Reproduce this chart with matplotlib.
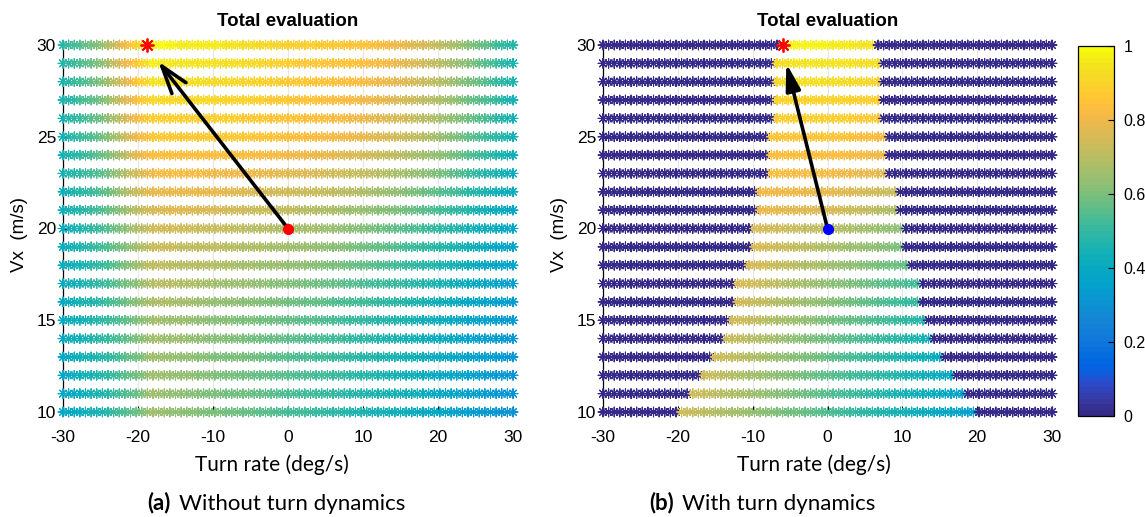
import numpy as np
import matplotlib
matplotlib.use("Agg")
import matplotlib.pyplot as plt
from matplotlib.colors import ListedColormap, Normalize
from matplotlib.cm import ScalarMappable
from matplotlib.offsetbox import TextArea, HPacker, AnnotationBbox

plt.rcParams["font.family"] = ["Liberation Sans", "DejaVu Sans"]
plt.rcParams["axes.unicode_minus"] = False

# ---------------------------------------------------------------- colour map
PARULA = [
    [0.2081, 0.1663, 0.5292], [0.2116, 0.1898, 0.5777], [0.2123, 0.2138, 0.6270],
    [0.2081, 0.2386, 0.6771], [0.1959, 0.2645, 0.7279], [0.1707, 0.2919, 0.7792],
    [0.1253, 0.3242, 0.8303], [0.0591, 0.3598, 0.8683], [0.0117, 0.3875, 0.8820],
    [0.0060, 0.4086, 0.8828], [0.0165, 0.4266, 0.8786], [0.0329, 0.4430, 0.8720],
    [0.0498, 0.4586, 0.8641], [0.0629, 0.4737, 0.8554], [0.0723, 0.4887, 0.8467],
    [0.0779, 0.5040, 0.8384], [0.0793, 0.5200, 0.8312], [0.0749, 0.5375, 0.8263],
    [0.0641, 0.5570, 0.8240], [0.0488, 0.5772, 0.8228], [0.0343, 0.5966, 0.8199],
    [0.0265, 0.6137, 0.8135], [0.0239, 0.6287, 0.8038], [0.0231, 0.6418, 0.7913],
    [0.0228, 0.6535, 0.7768], [0.0267, 0.6642, 0.7607], [0.0384, 0.6743, 0.7436],
    [0.0590, 0.6838, 0.7254], [0.0843, 0.6928, 0.7062], [0.1133, 0.7015, 0.6859],
    [0.1453, 0.7098, 0.6646], [0.1801, 0.7177, 0.6424], [0.2178, 0.7250, 0.6193],
    [0.2586, 0.7317, 0.5954], [0.3022, 0.7376, 0.5712], [0.3482, 0.7424, 0.5473],
    [0.3953, 0.7459, 0.5244], [0.4420, 0.7481, 0.5033], [0.4871, 0.7491, 0.4840],
    [0.5300, 0.7491, 0.4661], [0.5709, 0.7485, 0.4494], [0.6099, 0.7473, 0.4337],
    [0.6473, 0.7456, 0.4188], [0.6834, 0.7435, 0.4044], [0.7184, 0.7411, 0.3905],
    [0.7525, 0.7384, 0.3768], [0.7858, 0.7356, 0.3633], [0.8185, 0.7327, 0.3498],
    [0.8507, 0.7299, 0.3360], [0.8824, 0.7274, 0.3217], [0.9139, 0.7258, 0.3063],
    [0.9450, 0.7261, 0.2886], [0.9739, 0.7314, 0.2666], [0.9938, 0.7455, 0.2403],
    [0.9990, 0.7653, 0.2164], [0.9955, 0.7861, 0.1967], [0.9880, 0.8066, 0.1794],
    [0.9789, 0.8271, 0.1633], [0.9697, 0.8481, 0.1475], [0.9626, 0.8705, 0.1309],
    [0.9589, 0.8949, 0.1132], [0.9598, 0.9218, 0.0948], [0.9661, 0.9514, 0.0755],
    [0.9763, 0.9831, 0.0538],
]
parula = ListedColormap(PARULA, name="parula")

# ---------------------------------------------------------------- data
turn_rates = np.linspace(-30, 30, 81)       # deg/s, 0.75 deg/s step
speeds = np.arange(30, 9, -1)               # Vx rows, 30 .. 10 m/s

# (a) total evaluation without turn dynamics, sampled at these turn rates
a_cols = [-30, -25, -20, -18, -15, -10, -5, 0, 5, 10, 15, 20, 25, 30]
a_scores = [
    [0.48, 0.62, 0.90, 1.00, 0.97, 0.96, 0.93, 0.89, 0.87, 0.85, 0.80, 0.72, 0.60, 0.47],  # 30
    [0.47, 0.61, 0.88, 0.97, 0.95, 0.94, 0.92, 0.88, 0.86, 0.84, 0.79, 0.71, 0.59, 0.46],  # 29
    [0.46, 0.60, 0.86, 0.94, 0.93, 0.92, 0.90, 0.87, 0.85, 0.83, 0.78, 0.70, 0.58, 0.46],  # 28
    [0.46, 0.59, 0.84, 0.92, 0.91, 0.91, 0.89, 0.86, 0.84, 0.81, 0.76, 0.68, 0.57, 0.45],  # 27
    [0.45, 0.58, 0.82, 0.89, 0.89, 0.89, 0.87, 0.85, 0.83, 0.80, 0.75, 0.67, 0.56, 0.45],  # 26
    [0.45, 0.57, 0.80, 0.86, 0.87, 0.87, 0.86, 0.84, 0.82, 0.79, 0.74, 0.66, 0.55, 0.44],  # 25
    [0.44, 0.56, 0.78, 0.84, 0.84, 0.84, 0.83, 0.81, 0.79, 0.75, 0.70, 0.63, 0.53, 0.43],  # 24
    [0.44, 0.55, 0.75, 0.81, 0.82, 0.81, 0.80, 0.78, 0.75, 0.72, 0.67, 0.60, 0.50, 0.42],  # 23
    [0.43, 0.54, 0.73, 0.79, 0.79, 0.79, 0.76, 0.74, 0.72, 0.68, 0.63, 0.56, 0.48, 0.41],  # 22
    [0.43, 0.53, 0.70, 0.76, 0.77, 0.76, 0.73, 0.71, 0.68, 0.64, 0.60, 0.53, 0.46, 0.39],  # 21
    [0.42, 0.52, 0.68, 0.74, 0.74, 0.73, 0.70, 0.68, 0.65, 0.61, 0.56, 0.50, 0.44, 0.38],  # 20
    [0.42, 0.51, 0.66, 0.72, 0.72, 0.71, 0.68, 0.66, 0.63, 0.59, 0.54, 0.48, 0.43, 0.37],  # 19
    [0.41, 0.50, 0.65, 0.71, 0.70, 0.69, 0.66, 0.64, 0.61, 0.57, 0.52, 0.47, 0.41, 0.36],  # 18
    [0.41, 0.50, 0.63, 0.69, 0.69, 0.66, 0.64, 0.61, 0.58, 0.54, 0.50, 0.45, 0.40, 0.35],  # 17
    [0.40, 0.49, 0.62, 0.68, 0.67, 0.64, 0.62, 0.59, 0.56, 0.52, 0.48, 0.44, 0.38, 0.34],  # 16
    [0.40, 0.48, 0.60, 0.66, 0.65, 0.62, 0.60, 0.57, 0.54, 0.50, 0.46, 0.42, 0.37, 0.33],  # 15
    [0.40, 0.48, 0.60, 0.66, 0.65, 0.62, 0.59, 0.56, 0.53, 0.49, 0.45, 0.41, 0.36, 0.32],  # 14
    [0.39, 0.47, 0.59, 0.66, 0.64, 0.61, 0.59, 0.55, 0.52, 0.48, 0.45, 0.41, 0.36, 0.32],  # 13
    [0.39, 0.47, 0.59, 0.66, 0.64, 0.61, 0.58, 0.55, 0.52, 0.48, 0.44, 0.40, 0.35, 0.31],  # 12
    [0.38, 0.46, 0.58, 0.66, 0.63, 0.60, 0.58, 0.54, 0.51, 0.47, 0.44, 0.40, 0.35, 0.31],  # 11
    [0.38, 0.46, 0.58, 0.66, 0.63, 0.60, 0.57, 0.53, 0.50, 0.46, 0.43, 0.39, 0.34, 0.30],  # 10
]

# (b) with turn dynamics: reachable turn-rate band per row (|r| <= half width)
b_half_width = [6.0, 7.2, 7.2, 7.2, 7.2, 8.1, 8.1, 8.1, 9.0, 9.0, 10.0,
                10.0, 11.0, 12.0, 12.0, 13.0, 14.0, 15.0, 17.0, 18.0, 19.6]
# evaluation at the left edge, centre (0 deg/s) and right edge of each band
b_left = [0.98, 0.93, 0.92, 0.90, 0.88, 0.85, 0.84, 0.83, 0.81, 0.79, 0.76,
          0.76, 0.76, 0.76, 0.75, 0.75, 0.74, 0.74, 0.74, 0.74, 0.74]
b_mid = [0.97, 0.95, 0.93, 0.90, 0.89, 0.86, 0.84, 0.82, 0.79, 0.76, 0.70,
         0.68, 0.66, 0.63, 0.62, 0.60, 0.58, 0.57, 0.56, 0.55, 0.54]
b_right = [0.94, 0.92, 0.90, 0.88, 0.86, 0.82, 0.80, 0.77, 0.72, 0.68, 0.62,
           0.60, 0.56, 0.52, 0.50, 0.47, 0.44, 0.41, 0.39, 0.37, 0.35]

current_state = (0, 20)
best_a = (-18.75, 30)
best_b = (-6, 30)
arrow_tip_a = (-17.3, 29.1)
arrow_tip_b = (-5.5, 29.0)

# ---------------------------------------------------------------- build grids
def grid_a():
    xs, ys, vs = [], [], []
    for vx, row in zip(speeds, a_scores):
        vals = np.interp(turn_rates, a_cols, row)
        xs.append(turn_rates); ys.append(np.full_like(turn_rates, vx)); vs.append(vals)
    return np.concatenate(xs), np.concatenate(ys), np.concatenate(vs)


def grid_b():
    xs, ys, vs = [], [], []
    for vx, hw, lo, mi, hi in zip(speeds, b_half_width, b_left, b_mid, b_right):
        vals = np.interp(turn_rates, [-hw, 0, hw], [lo, mi, hi])
        vals = np.where(np.abs(turn_rates) <= hw, vals, 0.0)
        xs.append(turn_rates); ys.append(np.full_like(turn_rates, vx)); vs.append(vals)
    return np.concatenate(xs), np.concatenate(ys), np.concatenate(vs)


# ---------------------------------------------------------------- figure
W, H = 1145, 517
fig = plt.figure(figsize=(W / 100, H / 100), dpi=100)
HUMAN_FONT = "Lato"
ASTERISK = (8, 2, 0)


def px_axes(x0, x1, ytop, ybot):
    return [x0 / W, 1 - ybot / H, (x1 - x0) / W, (ybot - ytop) / H]


def style_axes(ax):
    ax.set_xlim(-30, 30)
    ax.set_ylim(10, 30)
    ax.set_xticks([-30, -20, -10, 0, 10, 20, 30])
    ax.set_yticks([10, 15, 20, 25, 30])
    ax.set_axisbelow(True)
    ax.grid(True, color="#e6e6e6", lw=0.8)
    for side in ("top", "right"):
        ax.spines[side].set_visible(False)
    for side in ("left", "bottom"):
        ax.spines[side].set_color("black")
        ax.spines[side].set_linewidth(0.9)
        ax.spines[side].set_zorder(0.6)
    ax.tick_params(direction="in", length=4, width=0.8, labelsize=12.5, colors="black")
    ax.tick_params(axis="x", pad=13)
    ax.tick_params(axis="y", pad=5)
    ax.set_title("Total evaluation", fontsize=13.5, fontweight="bold", pad=13.5)


def draw_panel(ax, grid, best, tip, dot_color, arrowstyle):
    x, y, v = grid
    ax.scatter(x, y, c=v, cmap=parula, vmin=0, vmax=1, marker=ASTERISK, s=49,
               linewidths=0.8, zorder=2, clip_on=False)
    ax.annotate("", xy=tip, xytext=current_state,
                arrowprops=dict(arrowstyle=arrowstyle, color="black", lw=2.6,
                                shrinkA=0, shrinkB=0, mutation_scale=20),
                zorder=4)
    ax.plot(*current_state, "o", ms=7, color=dot_color, mec=dot_color, zorder=5,
            clip_on=False)
    ax.plot(*best, marker=ASTERISK, ms=10, mew=1.3, color="red", ls="none",
            zorder=5, clip_on=False)
    style_axes(ax)


ax_a = fig.add_axes(px_axes(63, 513, 45, 412))
draw_panel(ax_a, grid_a(), best_a, arrow_tip_a, "red",
           "->,head_length=1.0,head_width=0.32")

ax_b = fig.add_axes(px_axes(603, 1052, 45, 412))
draw_panel(ax_b, grid_b(), best_b, arrow_tip_b, "blue",
           "-|>,head_length=0.8,head_width=0.22")

# axis labels
for xc in (19, 560):
    fig.text(xc / W, 1 - 234 / H, "Vx  (m/s)", rotation=90, ha="center",
             va="center", fontsize=13.5)
for xc in (272, 814):
    fig.text(xc / W, 1 - 465 / H, "Turn rate (deg/s)", ha="center",
             va="center", fontsize=15, family=HUMAN_FONT)

# colour bar
cax = fig.add_axes(px_axes(1078, 1114, 46, 416))
cb = fig.colorbar(ScalarMappable(norm=Normalize(0, 1), cmap=parula), cax=cax)
cb.set_ticks([0, 0.2, 0.4, 0.6, 0.8, 1.0])
cb.set_ticklabels(["0", "0.2", "0.4", "0.6", "0.8", "1"])
cb.outline.set_linewidth(0.9)
cax.tick_params(direction="in", length=4, width=0.8, labelsize=11.5, pad=7)


# sub-figure captions
def caption(xc, tag, text):
    t1 = TextArea(tag, textprops=dict(fontsize=16, fontweight="bold", family=HUMAN_FONT))
    t2 = TextArea(text, textprops=dict(fontsize=16, family=HUMAN_FONT))
    box = HPacker(children=[t1, t2], align="baseline", pad=0, sep=6)
    ab = AnnotationBbox(box, (xc / W, 1 - 503 / H), xycoords="figure fraction",
                        frameon=False, box_alignment=(0.5, 0.5), pad=0)
    fig.add_artist(ab)


caption(276, "(a)", "Without turn dynamics")
caption(762, "(b)", "With turn dynamics")

fig.savefig("out.png", dpi=100)
